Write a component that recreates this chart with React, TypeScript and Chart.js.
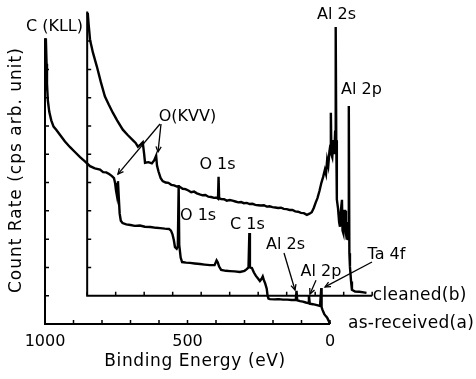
import React, { useEffect, useRef } from "react";
import { Chart, registerables } from "chart.js";

Chart.register(...registerables);

// ---- as-received (a) spectrum: binding energy (eV) and count rate (axis units)
const asReceivedEnergy = [
  1000, 997, 994.5, 993, 990, 985, 978, 970, 960, 947, 930, 912, 895, 877, 860, 842, 825, 807, 796, 785,
  775, 765, 758, 754, 751, 748, 746, 744, 741, 738, 734, 728, 715, 700, 685, 667, 650, 630, 610, 596,
  580, 565, 558, 553, 548, 544, 538, 534, 531, 529, 524, 519, 505, 491, 475, 456, 440, 421, 405, 398,
  394, 389, 382, 365, 351, 335, 316, 300, 292, 286, 283, 281, 274, 267, 260, 252, 246, 240, 236, 232,
  228, 222, 219, 216, 211, 195, 180, 165, 150, 135, 120, 117.5, 115, 105, 95, 85, 77, 74, 71, 60,
  46, 35, 30.5, 29.5, 26, 20, 14, 10, 5, 2, 0,
];
const asReceivedCounts = [
  8.3, 10.1, 9.2, 8.5, 7.9, 7.5, 7.2, 6.98, 6.86, 6.68, 6.45, 6.25, 6.08, 5.9, 5.75, 5.58, 5.5, 5.46, 5.37, 5.36,
  5.3, 5.23, 5.16, 4.98, 4.73, 4.56, 4.9, 5.05, 4.45, 3.9, 3.65, 3.57, 3.52, 3.5, 3.47, 3.48, 3.44, 3.43, 3.4, 3.39,
  3.37, 3.36, 3.3, 3.18, 2.97, 2.72, 2.66, 2.75, 4.91, 2.8, 2.35, 2.19, 2.17, 2.16, 2.14, 2.12, 2.1, 2.08, 2.08, 2.25,
  2.18, 2.03, 1.91, 1.88, 1.87, 1.86, 1.84, 1.88, 1.94, 2.0, 3.22, 2.0, 1.98, 1.82, 1.7, 1.6, 1.52, 1.6, 1.68, 1.55,
  1.45, 1.25, 1.0, 0.9, 0.88, 0.87, 0.88, 0.86, 0.86, 0.85, 0.85, 1.17, 0.84, 0.81, 0.79, 0.76, 0.74, 1.02, 0.72, 0.7,
  0.67, 0.64, 1.27, 0.6, 0.49, 0.35, 0.27, 0.22, 0.12, 0.04, 0,
];

// ---- cleaned (b) spectrum (plotted on the offset axes)
const cleanedEnergy = [
  998, 995, 990, 980, 966, 952, 938, 924, 910, 895, 875, 858, 840, 830, 822, 812, 805, 800, 797, 785,
  773, 765, 758, 755, 750, 742,
  735, 725, 715, 705, 695, 685, 675, 665, 655, 645, 635, 625, 615, 605, 595, 585, 575, 565, 555, 546,
  541, 539, 537, 530, 520, 510, 500, 490, 480, 470, 460, 450, 440, 430, 420, 410, 400, 390, 380, 370,
  360, 350, 340, 330, 320, 310, 300, 290, 280, 270, 260, 250, 240, 229,
  220, 212, 205, 198, 192, 185, 178, 172, 166, 162, 158, 154, 150, 147,
  145, 143, 140, 136, 133, 130, 128, 126, 124, 120, 116, 113, 110, 106, 104, 101, 98, 95, 92, 89,
  86, 84, 82, 80, 78, 74, 71, 60, 45, 30, 20,
];
const cleanedCounts = [
  10.0, 9.6, 9.05, 8.6, 8.1, 7.55, 7.05, 6.75, 6.47, 6.2, 5.87, 5.68, 5.5, 5.4, 5.27, 5.35, 5.42, 5.0, 4.7, 4.72,
  4.68, 4.78, 4.95, 4.6, 4.4, 4.15,
  4.05, 4.0, 3.99, 3.92, 3.9, 3.86, 3.85, 3.78, 3.77, 3.72, 3.66, 3.68, 3.62, 3.58, 3.55, 3.56, 3.5, 3.49, 3.46, 3.47,
  3.43, 4.2, 3.44, 3.42, 3.41, 3.36, 3.38, 3.36, 3.33, 3.3, 3.31, 3.27, 3.28, 3.24, 3.25, 3.21, 3.2, 3.19, 3.2, 3.15,
  3.16, 3.13, 3.12, 3.1, 3.11, 3.07, 3.06, 3.03, 3.03, 2.98, 2.97, 2.93, 2.92, 2.86,
  2.9, 2.95, 3.1, 3.3, 3.45, 3.7, 4.0, 4.2, 4.45, 4.3, 4.8, 4.6, 5.1, 5.3,
  6.47, 5.0, 4.9, 5.5, 5.0, 5.8, 9.5, 5.5, 3.4, 3.1, 2.6, 2.44, 3.0, 3.39, 2.3, 2.2, 3.0, 3.0, 2.2, 1.98,
  2.6, 2.0, 6.71, 1.5, 1.02, 0.5, 0.21, 0.15, 0.14, 0.12, 0.1,
];

// ---- axis ticks
const xTickLabels = [1000, 500, 0];
const xMinorTicks = [1000, 900, 800, 700, 600, 500, 400, 300, 200, 100, 0];
const yMinorTicks = [1, 2, 3, 4, 5, 6, 7, 8, 9];

// ---- annotations (in as-received axis coordinates: energy, count)
const peakLabels = [
  { text: "C (KLL)", e: 966.7, v: 10.49 },
  { text: "Al 2s", e: -23, v: 10.92 },
  { text: "Al 2p", e: -110.5, v: 8.27 },
  { text: "O(KVV)", e: 500, v: 7.31 },
  { text: "O 1s", e: 394.7, v: 5.62 },
  { text: "O 1s", e: 463, v: 3.82 },
  { text: "C 1s", e: 289.5, v: 3.5 },
  { text: "Al 2s", e: 156, v: 2.79 },
  { text: "Al 2p", e: 31.6, v: 1.84 },
  { text: "Ta 4f", e: -198, v: 2.44 },
];
const seriesLabels = [
  { text: "cleaned(b)", e: -150, v: 1.02 },
  { text: "as-received(a)", e: -63, v: 0 },
];
const arrows = [
  { e1: 596.5, v1: 7.07, e2: 744, v2: 5.3 },
  { e1: 593, v1: 7.07, e2: 603.5, v2: 6.08 },
  { e1: 161.4, v1: 2.51, e2: 122.8, v2: 1.2 },
  { e1: 49.1, v1: 1.55, e2: 70.2, v2: 1.06 },
  { e1: -147.4, v1: 2.19, e2: 17.5, v2: 1.31 },
];
const xTitle = "Binding Energy (eV)";
const yTitle = "Count Rate (cps arb. unit)";

const FONT = '16px "DejaVu Sans", sans-serif';
const FONT_BIG = '17px "DejaVu Sans", sans-serif';

const xpsPlugin = {
  id: "xpsDecor",
  beforeDatasetsDraw(chart: any) {
    const { ctx, scales } = chart;
    const frames = [
      { xs: scales.xA, ys: scales.yA, top: 10.1 },
      { xs: scales.xB, ys: scales.yB, top: 10.05 },
    ];
    ctx.save();
    ctx.strokeStyle = "#000";
    for (const f of frames) {
      const x0 = f.xs.getPixelForValue(1000);
      const x1 = f.xs.getPixelForValue(0);
      const y0 = f.ys.getPixelForValue(0);
      const yt = f.ys.getPixelForValue(f.top);
      ctx.lineWidth = 2;
      ctx.beginPath();
      ctx.moveTo(x0, yt);
      ctx.lineTo(x0, y0);
      ctx.lineTo(x1, y0);
      ctx.stroke();
      ctx.lineWidth = 1.5;
      ctx.beginPath();
      for (const e of xMinorTicks) {
        const px = f.xs.getPixelForValue(e);
        ctx.moveTo(px, y0);
        ctx.lineTo(px, y0 - 4);
      }
      for (const v of yMinorTicks) {
        const py = f.ys.getPixelForValue(v);
        ctx.moveTo(x0, py);
        ctx.lineTo(x0 + 4, py);
      }
      ctx.stroke();
    }
    ctx.restore();
  },
  afterDatasetsDraw(chart: any) {
    const { ctx, scales } = chart;
    const xA = scales.xA;
    const yA = scales.yA;
    ctx.save();
    ctx.fillStyle = "#000";
    ctx.strokeStyle = "#000";
    ctx.font = FONT;
    ctx.textBaseline = "middle";
    ctx.textAlign = "center";
    for (const l of peakLabels) {
      ctx.fillText(l.text, xA.getPixelForValue(l.e), yA.getPixelForValue(l.v));
    }
    for (const t of xTickLabels) {
      ctx.fillText(String(t), xA.getPixelForValue(t), yA.getPixelForValue(-0.64));
    }
    ctx.font = FONT_BIG;
    (ctx as any).letterSpacing = "0.6px";
    ctx.fillText(xTitle, xA.getPixelForValue(473.7), yA.getPixelForValue(-1.34));
    (ctx as any).letterSpacing = "0.3px";
    ctx.textAlign = "left";
    for (const l of seriesLabels) {
      ctx.fillText(l.text, xA.getPixelForValue(l.e), yA.getPixelForValue(l.v));
    }
    // y title
    ctx.save();
    (ctx as any).letterSpacing = "1px";
    ctx.translate(xA.getPixelForValue(1098), yA.getPixelForValue(5.44));
    ctx.rotate(-Math.PI / 2);
    ctx.textAlign = "center";
    ctx.fillText(yTitle, 0, 0);
    ctx.restore();
    (ctx as any).letterSpacing = "0px";
    // arrows
    ctx.lineWidth = 1.3;
    for (const a of arrows) {
      const x1 = xA.getPixelForValue(a.e1);
      const y1 = yA.getPixelForValue(a.v1);
      const x2 = xA.getPixelForValue(a.e2);
      const y2 = yA.getPixelForValue(a.v2);
      ctx.beginPath();
      ctx.moveTo(x1, y1);
      ctx.lineTo(x2, y2);
      ctx.stroke();
      const ang = Math.atan2(y2 - y1, x2 - x1);
      const L = 6;
      const w = 0.45;
      ctx.beginPath();
      ctx.moveTo(x2 - L * Math.cos(ang - w), y2 - L * Math.sin(ang - w));
      ctx.lineTo(x2, y2);
      ctx.lineTo(x2 - L * Math.cos(ang + w), y2 - L * Math.sin(ang + w));
      ctx.stroke();
    }
    ctx.restore();
  },
};

export default function App() {
  const canvasRef = useRef<HTMLCanvasElement | null>(null);

  useEffect(() => {
    if (!canvasRef.current) return;
    const asReceived = asReceivedEnergy.map((e, i) => ({ x: e, y: asReceivedCounts[i] }));
    const cleaned = cleanedEnergy.map((e, i) => ({ x: e, y: cleanedCounts[i] }));
    const chart = new Chart(canvasRef.current, {
      type: "line",
      data: {
        datasets: [
          {
            label: "as-received(a)",
            data: asReceived,
            xAxisID: "xA",
            yAxisID: "yA",
            borderColor: "#000",
            borderWidth: 2.4,
            pointRadius: 0,
            tension: 0,
            fill: false,
            clip: false as any,
          },
          {
            label: "cleaned(b)",
            data: cleaned,
            xAxisID: "xB",
            yAxisID: "yB",
            borderColor: "#000",
            borderWidth: 2.4,
            pointRadius: 0,
            tension: 0,
            fill: false,
            clip: false as any,
          },
        ],
      },
      options: {
        animation: false,
        responsive: false,
        devicePixelRatio: 1,
        layout: { padding: { left: 45, right: 146, top: 10, bottom: 55 } },
        plugins: { legend: { display: false }, tooltip: { enabled: false } },
        scales: {
          xA: { type: "linear", display: false, reverse: true, min: 0, max: 1000 },
          xB: { type: "linear", display: false, reverse: true, min: 148, max: 1148 },
          yA: { type: "linear", display: false, min: 0, max: 11.1 },
          yB: { type: "linear", display: false, min: -1, max: 10.1 },
        },
      },
      plugins: [xpsPlugin],
    });
    return () => chart.destroy();
  }, []);

  return (
    <div style={{ position: "fixed", left: 0, top: 0, width: 476, height: 379, background: "#fff" }}>
      <canvas ref={canvasRef} width={476} height={379} />
    </div>
  );
}
